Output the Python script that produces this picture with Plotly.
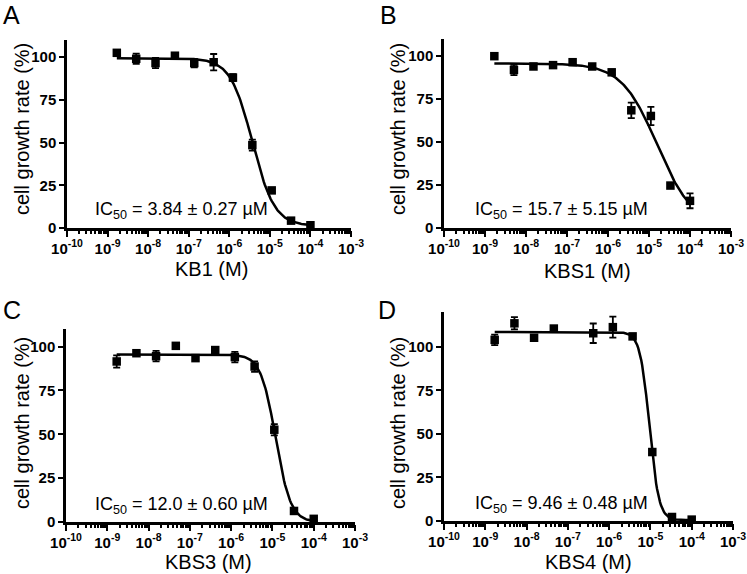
import math
import plotly.graph_objects as go

# ---------------- data ----------------
conc = [1.69e-9, 5.08e-9, 1.52e-8, 4.57e-8, 1.37e-7, 4.12e-7, 1.23e-6, 3.70e-6, 1.11e-5, 3.33e-5, 1.0e-4]

kb1_vals = [102.5, 99.0, 96.5, 100.8, 96.5, 97.0, 88.0, 48.5, 22.0, 4.3, 1.6]
kb1_err = [1.0, 3.0, 3.0, 1.0, 2.5, 4.8, 2.0, 3.2, 1.0, 1.0, 1.0]

kbs1_vals = [100.0, 92.0, 94.0, 94.8, 96.5, 94.0, 90.6, 68.5, 65.2, 24.7, 15.8]
kbs1_err = [1.0, 3.0, 1.5, 1.0, 1.0, 1.0, 1.5, 4.5, 5.3, 1.0, 4.3]

kbs3_vals = [91.5, 96.2, 94.5, 100.4, 93.4, 98.0, 94.0, 88.6, 52.6, 6.3, 1.8]
kbs3_err = [3.5, 1.0, 3.0, 1.0, 1.0, 1.5, 3.0, 3.0, 3.2, 1.0, 1.0]

kbs4_vals = [104.0, 113.5, 105.2, 110.5, None, 107.8, 111.3, 106.0, 39.6, 2.3, 0.8]
kbs4_err = [3.0, 3.5, 1.0, 1.0, None, 5.6, 6.0, 1.0, 1.0, 1.0, 1.0]

# 4-parameter logistic fit parameters: top, bottom, log10(IC50), hill slope
fit_kb1 = [99.3, 1.3, -5.43, 1.6]
fit_kbs1 = [95.8, 1.0, -4.80, 1.0]
fit_kbs3 = [95.5, 0.0, -4.921, 2.4]
fit_kbs4 = [108.5, 0.5, -5.024, 3.8]

names = ["KB1", "KBS1", "KBS3", "KBS4"]
letters = ["A", "B", "C", "D"]
ic50_labels = ["IC<sub>50</sub> = 3.84 \u00b1 0.27 \u00b5M",
               "IC<sub>50</sub> = 15.7 \u00b1 5.15 \u00b5M",
               "IC<sub>50</sub> = 12.0 \u00b1 0.60 \u00b5M",
               "IC<sub>50</sub> = 9.46 \u00b1 0.48 \u00b5M"]
y_max = [110, 110, 110, 120]
y_ticks = [0, 25, 50, 75, 100]
x_exponents = [-10, -9, -8, -7, -6, -5, -4, -3]

values = [kb1_vals, kbs1_vals, kbs3_vals, kbs4_vals]
errors = [kb1_err, kbs1_err, kbs3_err, kbs4_err]
fits = [fit_kb1, fit_kbs1, fit_kbs3, fit_kbs4]

# ---------------- layout geometry (pixels) ----------------
W, H = 747, 574
# plot boxes: left, right, top, bottom (pixels)
boxes = [(67, 351, 40, 228), (444, 731, 39, 228), (66, 355, 329, 522), (444, 733, 312, 521)]
letter_pos = [(11, 15), (388, 15), (12, 310), (387, 310)]
ytitle_pos = [(22, 129), (398, 129), (22, 423), (398, 423)]
xtitle_pos = [(212, 269), (587, 271), (208, 562), (588, 562)]
ic_pos = [(93, 210), (473, 210), (93, 505), (473, 504)]


def px(x):
    return x / W


def py(y):
    return 1 - y / H


FONT = "Liberation Sans, Arial, sans-serif"

fig = go.Figure()

minor_vals = [k * 10.0 ** e for e in range(-10, -3) for k in range(2, 10)]

annotations = []
for i in range(4):
    sfx = "" if i == 0 else str(i + 1)
    xa, ya = "x" + sfx, "y" + sfx
    top, bottom, logc, hill = fits[i]
    # fitted 4PL curve
    n = 200
    lo, hi = -8.772, -4.0
    cx = [10 ** (lo + (hi - lo) * j / (n - 1)) for j in range(n)]
    cy = [bottom + (top - bottom) / (1 + 10 ** ((math.log10(v) - logc) * hill)) for v in cx]
    fig.add_trace(go.Scatter(x=cx, y=cy, mode="lines", line=dict(color="black", width=2.5),
                             xaxis=xa, yaxis=ya, showlegend=False, hoverinfo="skip"))
    fig.add_trace(go.Scatter(x=conc, y=values[i], mode="markers",
                             marker=dict(symbol="square", size=8.5, color="black"),
                             error_y=dict(type="data", array=errors[i], color="black",
                                          thickness=1.8, width=3.5),
                             xaxis=xa, yaxis=ya, showlegend=False, cliponaxis=False))

    l, r, t, b = boxes[i]
    fig.layout["xaxis" + sfx] = dict(
        type="log", range=[-10, -3], domain=[px(l), px(r)], anchor=ya, automargin=False,
        tickmode="array", tickvals=[10.0 ** e for e in x_exponents],
        ticktext=["10<sup>%d</sup>" % e for e in x_exponents],
        tickfont=dict(family=FONT, size=15, color="black", weight="bold"),
        ticklabelstandoff=-1, ticklabeloverflow="allow",
        showline=True, linecolor="black", linewidth=2.5, ticks="outside",
        ticklen=6, tickwidth=2.2, tickcolor="black", showgrid=False, zeroline=False,
        minor=dict(tickmode="array", tickvals=minor_vals, ticks="outside", ticklen=3.5,
                   tickwidth=1.5, tickcolor="black", showgrid=False),
        fixedrange=True)
    fig.layout["yaxis" + sfx] = dict(
        range=[0, y_max[i]], domain=[py(b), py(t)], anchor=xa, automargin=False,
        tickmode="array", tickvals=y_ticks, ticktext=[str(v) for v in y_ticks],
        tickfont=dict(family=FONT, size=15, color="black", weight="bold"),
        showline=True, linecolor="black", linewidth=2.5, ticks="outside",
        ticklen=5, tickwidth=2.2, tickcolor="black", showgrid=False, zeroline=False,
        fixedrange=True)

    lx, ly = letter_pos[i]
    annotations.append(dict(text=letters[i], x=px(lx), y=py(ly), xref="paper", yref="paper",
                            showarrow=False, font=dict(family=FONT, size=25, color="black"),
                            xanchor="center", yanchor="middle"))
    tx, ty = ytitle_pos[i]
    annotations.append(dict(text="cell growth rate (%)", x=px(tx), y=py(ty), xref="paper", yref="paper",
                            showarrow=False, textangle=-90,
                            font=dict(family=FONT, size=20, color="black"),
                            xanchor="center", yanchor="middle"))
    xx, xy = xtitle_pos[i]
    annotations.append(dict(text=names[i] + " (M)", x=px(xx), y=py(xy), xref="paper", yref="paper",
                            showarrow=False, font=dict(family=FONT, size=20, color="black"),
                            xanchor="center", yanchor="middle"))
    ix, iy = ic_pos[i]
    annotations.append(dict(text=ic50_labels[i], x=px(ix), y=py(iy), xref="paper", yref="paper",
                            showarrow=False, font=dict(family=FONT, size=18, color="black"),
                            xanchor="left", yanchor="middle"))

fig.update_layout(width=W, height=H, margin=dict(l=0, r=0, t=0, b=0, autoexpand=False),
                  paper_bgcolor="white", plot_bgcolor="white",
                  annotations=annotations, showlegend=False)

fig.write_html("out.html", config={"displayModeBar": False},
               post_script="document.body.style.margin='0';document.body.style.overflow='hidden';")
